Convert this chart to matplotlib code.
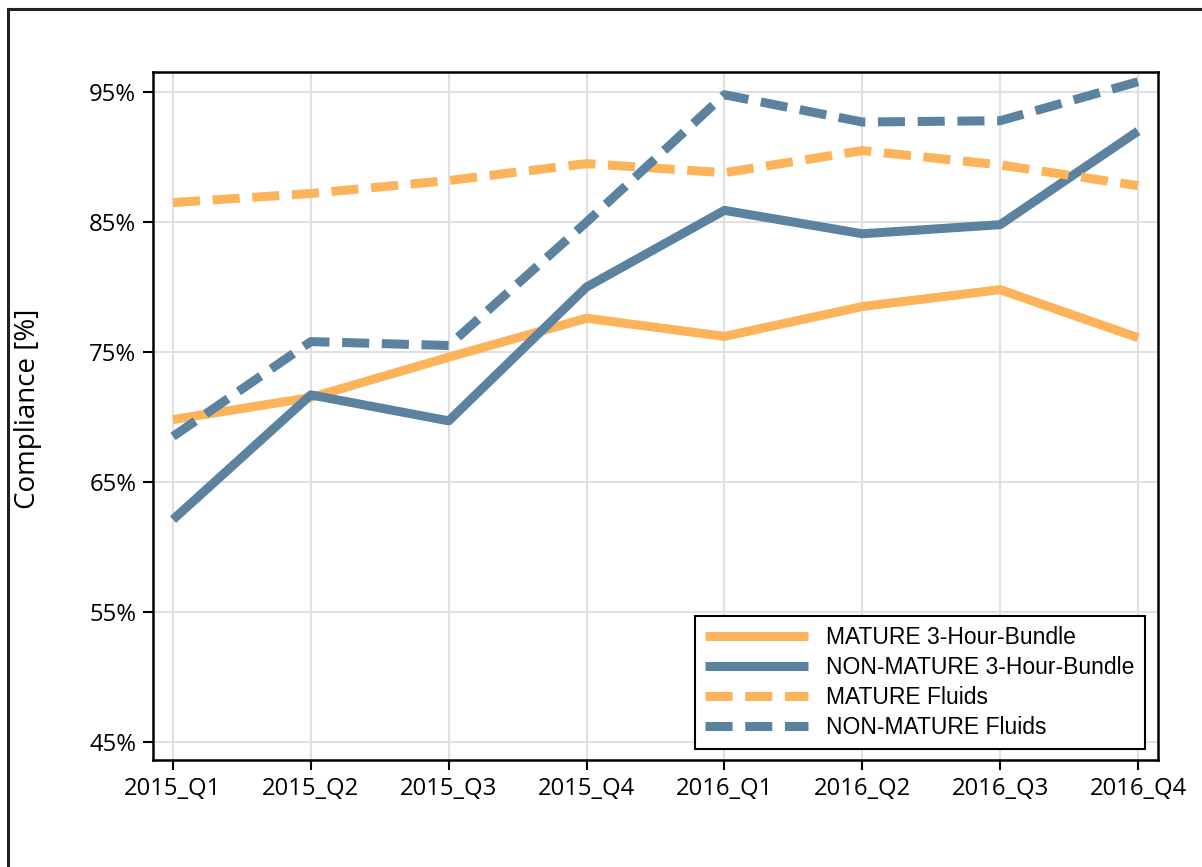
import matplotlib
matplotlib.use("Agg")
import matplotlib.pyplot as plt
from matplotlib.lines import Line2D

quarters = ["2015_Q1", "2015_Q2", "2015_Q3", "2015_Q4",
            "2016_Q1", "2016_Q2", "2016_Q3", "2016_Q4"]
mature_bundle = [69.8, 71.5, 74.6, 77.6, 76.2, 78.5, 79.8, 76.1]
nonmature_bundle = [62.1, 71.7, 69.7, 80.0, 85.9, 84.1, 84.8, 92.0]
mature_fluids = [86.5, 87.2, 88.2, 89.5, 88.8, 90.5, 89.4, 87.8]
nonmature_fluids = [68.5, 75.8, 75.5, 85.0, 94.8, 92.7, 92.8, 95.8]
yticks = [45, 55, 65, 75, 85, 95]

orange = "#FDB35A"
blue = "#5B83A0"

W, H = 1202, 867
fig = plt.figure(figsize=(W / 100, H / 100), dpi=100)
ax = fig.add_axes([153 / W, 1 - 760 / H, (1158 - 153) / W, (760 - 72) / H])

x = list(range(len(quarters)))
lw = 6.5
ax.plot(x, mature_bundle, color=orange, lw=lw, solid_capstyle="butt",
        label="MATURE 3-Hour-Bundle")
ax.plot(x, nonmature_bundle, color=blue, lw=lw, solid_capstyle="butt",
        label="NON-MATURE 3-Hour-Bundle")
ax.plot(x, mature_fluids, color=orange, lw=lw, dashes=(3.0, 1.4),
        dash_capstyle="butt", label="MATURE Fluids")
ax.plot(x, nonmature_fluids, color=blue, lw=lw, dashes=(3.0, 1.4),
        dash_capstyle="butt", label="NON-MATURE Fluids")

ax.set_xlim(-0.145, 7.145)
ax.set_ylim(43.6, 96.55)
ax.set_xticks(x)
ax.set_xticklabels(quarters)
ax.set_yticks(yticks)
ax.set_yticklabels([f"{v}%" for v in yticks])
ax.grid(True, color="#e0e0e0", lw=1.5)
ax.set_axisbelow(True)
for s in ax.spines.values():
    s.set_linewidth(1.8)
ax.tick_params(length=7, width=1.5, labelsize=17.2, pad=5)
for lab in ax.get_xticklabels() + ax.get_yticklabels():
    lab.set_family("Open Sans")
ax.set_ylabel("Compliance [%]", fontsize=20, family="Open Sans")
ax.yaxis.set_label_coords(-(153 - 42) / (1158 - 153), 0.51)

leg = ax.legend(loc="lower right", bbox_to_anchor=(1 - 13 / 1005, 11 / 688),
                prop={"family": "Liberation Sans", "size": 16.5},
                frameon=True, fancybox=False, framealpha=1, edgecolor="black",
                handlelength=4.5, handletextpad=0.8, labelspacing=0.3,
                borderpad=0.45, borderaxespad=0)
leg.get_frame().set_linewidth(1.5)

# outer frame
fig.add_artist(Line2D([7.5 / W, 7.5 / W], [0, 1 - 8.5 / H], color="#222222",
                      lw=2.2, transform=fig.transFigure))
fig.add_artist(Line2D([7.5 / W, 1], [1 - 8.5 / H, 1 - 8.5 / H], color="#222222",
                      lw=2.2, transform=fig.transFigure))

fig.savefig("out.png", dpi=100)
